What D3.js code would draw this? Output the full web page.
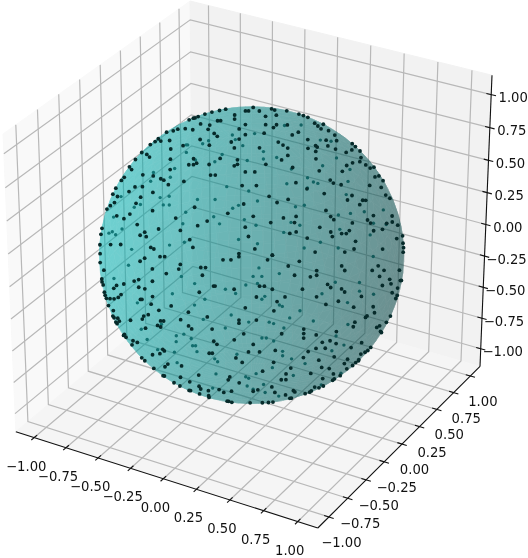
<!DOCTYPE html>
<html>
<head>
<meta charset="utf-8">
<script src="https://cdn.jsdelivr.net/npm/d3@7"></script>
<style>
body { margin: 0; background: #fff; }
svg { display: block; filter: blur(0.7px); }
text { font-family: "DejaVu Sans"; font-size: 13.2px; fill: #111; text-anchor: middle; dominant-baseline: central; }
</style>
</head>
<body>
<div id="chart"></div>
<script>
var axisTicks = [-1, -0.75, -0.5, -0.25, 0, 0.25, 0.5, 0.75, 1];

// dots on the unit sphere as [across, up] in percent of the radius, as seen by the camera
var frontNW = [[-39,94],[-35,93],[-31,96],[-26,96],[-21,97],[-17,98],[-41,91],[-37,92],[-33,87],[-27,86],[-22,89],[-20,89],[-4,96],[-2,96],[-11,90],[-11,93],[-48,84],[-56,83],[-51,83],[-61,78],[-63,76],[-67,75],[-72,69],[-77,65],[-81,60],[-78,57],[-83,52],[-85,50],[-89,45],[-91,41],[-95,31],[-98,18],[-99,14],[-100,7],[-99,1],
[-43,84],[-38,83],[-28,83],[-24,80],[-22,78],[-4,86],[-8,83],[-4,79],[-8,76],[-13,74],[-11,70],[-27,72],[-33,76],[-44,72],[-52,70],[-53,76],[-59,76],[-66,65],[-68,67],[-52,63],[-37,63],[-35,60],[-37,59],[-27,59],[-40,59],[-52,56],[-20,63],[-9,62],[-11,58],[-9,59],[-23,52],[-26,52],[-4,54],[-6,45],[-43,48],[-58,50],[-56,49],[-53,46],[-63,52],[-70,53],[-63,41],[-70,45],[-75,45],[-79,42],[-87,39],[-71,38],[-74,34],[-89,35],[-92,33],[-87,26],[-82,24],[-78,27],[-63,29],[-48,24],[-36,31],[-15,27],[-5,33],[-28,22],[-34,19],[-4,18],[-45,16],[-59,17],[-68,15],[-67,12],[-71,13],[-73,20],[-84,7],[-91,7],[-39,10],[-37,5],[-64,5],[-62,4],[-8,1],[-2,12]];
var backNW = [[-6,76],[-44,76],[-66,57],[-52,60],[-55,54],[-68,51],[-87,40],[-79,33],[-75,35],[-60,35],[-56,35],[-56,41],[-62,40],[-37,39],[-25,39],[-13,33],[-9,35],[-38,66],[-20,70],[-13,83],[-11,80],[-25,65],[-17,48],[-26,27],[-45,30],[-47,22],[-92,26],[-87,18],[-93,16],[-91,14],[-95,15],[-22,22],[-9,11],[-56,7],[-81,4],[-46,9],[-3,66],[-2,45],[-44,71],[-33,77],[-29,79],[-43,76],[-5,25]];
var frontNE = [[1,99],[5,96],[13,98],[15,97],[23,97],[31,95],[34,94],[37,93],[16,93],[9,92],[9,86],[16,86],[14,84],[23,86],[26,79],[30,81],[8,80],[36,76],[41,88],[43,86],[45,84],[47,88],[50,83],[54,80],[55,76],[48,76],[66,75],[68,73],[17,74],[20,72],[23,70],[36,70],[41,72],[42,71],[41,68],[49,72],[54,70],[61,68],[65,70],[5,70],[19,62],[23,65],[41,63],[71,65],[70,62],[74,60],[77,58],[65,61],[61,59],[58,55],[9,59],[26,57],[43,55],[2,54],[50,49],[52,47],[28,47],[3,45],[57,46],[76,46],[83,53],[80,52],[84,45],[87,40],[90,38],[35,43],[46,40],[64,39],[61,36],[11,38],[23,36],[16,34],[69,33],[71,36],[73,36],[47,29],[50,25],[52,23],[64,21],[74,23],[76,21],[78,26],[91,26],[1,25],[12,21],[20,24],[28,25],[27,21],[24,14],[28,15],[43,18],[50,15],[51,12],[57,14],[35,11],[62,16],[60,14],[66,9],[78,16],[84,17],[87,21],[91,22],[95,20],[99,13],[99,8],[100,5],[99,2],[94,11],[65,4],[40,2],[13,0],[84,4],[59,2],[2,4],[71,70],[80,59],[86,50]];
var backNE = [[2,84],[22,89],[33,89],[53,78],[46,79],[8,72],[8,67],[17,68],[27,60],[38,54],[45,50],[42,51],[24,50],[38,47],[65,51],[66,59],[57,67],[48,62],[36,35],[30,34],[4,38],[27,23],[59,28],[67,29],[82,22],[76,30],[88,31],[90,21],[80,14],[47,9],[36,5],[59,5],[4,8],[3,21],[22,16],[33,21],[60,18],[64,42]];
var frontSW = [[-99,-5],[-96,-10],[-98,-16],[-97,-20],[-96,-27],[-95,-29],[-92,-29],[-89,-29],[-86,-28],[-84,-26],[-89,-22],[-87,-20],[-82,-19],[-75,-17],[-72,-16],[-63,-17],[-72,-21],[-68,-22],[-63,-27],[-71,-29],[-70,-29],[-64,-32],[-59,-36],[-66,-39],[-69,-40],[-70,-42],[-78,-43],[-90,-37],[-90,-42],[-87,-42],[-86,-44],[-89,-45],[-84,-54],[-82,-55],[-77,-57],[-74,-58],[-68,-48],[-58,-43],[-56,-43],[-58,-47],[-60,-46],[-45,-42],[-40,-37],[-28,-40],[-40,-46],[-38,-48],[-25,-48],[-8,-42],[-8,-44],[-5,-51],[-11,-55],[-24,-56],[-22,-58],[-2,-63],[-6,-70],[-10,-67],[-27,-64],[-25,-64],[-57,-62],[-56,-63],[-59,-65],[-64,-66],[-72,-69],[-54,-72],[-56,-74],[-45,-73],[-57,-81],[-51,-86],[-46,-81],[-40,-84],[-34,-87],[-33,-89],[-28,-90],[-34,-93],[-41,-91],[-34,-79],[-14,-80],[-15,-82],[-21,-89],[-18,-91],[-13,-90],[-8,-84],[-15,-98],[-13,-99],[-1,-99],[-28,-94],[-29,-8],[-31,-13],[-32,-8],[-45,-6],[-46,-9],[-54,-12],[-63,-9],[-71,-4],[-68,-2],[-58,-1],[-55,-1],[-18,-3],[-13,-3],[-8,-1],[-24,-20],[-23,-20],[-11,-22],[-33,-24],[-4,-34],[-51,-33],
[-98,-18],[-97,-25],[-94,-34],[-91,-41],[-88,-46],[-83,-53],[-78,-60],[-58,-81],[-40,-91],[-28,-96],[-16,-98],[-70,-71],[-64,-76],[-47,-88]];
var backSW = [[-83,-7],[-92,-16],[-77,-33],[-39,-20],[-54,-27],[-48,-15],[-32,-31],[-18,-24],[-11,-27],[-4,-21],[-14,-42],[-2,-47],[-18,-51],[-41,-58],[-51,-56],[-51,-60],[-46,-55],[-40,-63],[-38,-63],[-37,-67],[-52,-67],[-25,-72],[-23,-74],[-10,-69],[-4,-84],[-2,-85],[-33,-45],[-61,-48],[-39,-35],[-74,-51],[-70,-58],[-63,-65],[-50,-74],[-24,-82],[-3,-90],[-26,-91]];
var frontSE = [[10,-3],[13,0],[30,-4],[23,-7],[27,-13],[41,-10],[41,-13],[37,-14],[57,-7],[59,-10],[77,-10],[81,-7],[85,-10],[82,-14],[89,-16],[96,-10],[97,-17],[98,-17],[90,-19],[84,-20],[95,-22],[91,-25],[8,-20],[5,-20],[13,-22],[32,-22],[48,-19],[50,-21],[57,-22],[59,-24],[41,-27],[3,-27],[21,-27],[16,-30],[55,-30],[47,-32],[70,-27],[65,-34],[78,-34],[94,-29],[14,-36],[3,-42],[73,-41],[74,-40],[79,-38],[66,-44],[88,-45],[83,-47],[81,-48],[84,-51],[33,-48],[33,-51],[19,-51],[41,-52],[54,-50],[50,-56],[54,-58],[45,-57],[47,-61],[41,-61],[36,-63],[1,-58],[15,-62],[5,-63],[64,-61],[71,-58],[78,-62],[74,-65],[71,-66],[70,-70],[68,-72],[62,-69],[53,-67],[43,-69],[33,-67],[14,-70],[7,-76],[25,-74],[45,-74],[50,-75],[53,-79],[38,-78],[60,-72],[22,-78],[19,-82],[22,-82],[41,-88],[46,-82],[53,-84],[27,-90],[28,-91],[25,-96],[15,-91],[13,-87],[22,-93],[1,-90],[4,-89],[7,-99],[11,-99],[14,-99],[44,-89],[35,-93],[33,-54],[47,-88],[65,-47],
[26,-96],[39,-91],[54,-83],[62,-76],[70,-71],[95,-27],[38,-92],[58,-81],[66,-74],[76,-64],[85,-52],[91,-41]];
var backSE = [[5,-9],[7,-15],[19,-13],[1,-15],[4,-20],[9,-29],[7,-31],[21,-36],[19,-35],[26,-44],[12,-47],[15,-48],[22,-51],[33,-39],[42,-46],[48,-27],[57,-19],[65,-33],[82,-27],[73,-25],[73,-19],[82,-1],[57,-56],[62,-62],[7,-58],[10,-58],[15,-60],[21,-67],[21,-70],[36,-75],[27,-72],[14,-78],[3,-82],[1,-92],[9,-94],[8,-89],[59,-80],[18,-96],[46,-88],[65,-48],[54,-66],[28,-83]];

var frontDots = frontNW.concat(frontNE, frontSW, frontSE);
var backDots = backNW.concat(backNE, backSW, backSE);

var dataLim = 1.1;
var boxLim = dataLim + 2 * dataLim / 48;
var camDist = 10;

// camera at elev 30, azim -60
var elev = 30 * Math.PI / 180, azim = -60 * Math.PI / 180;
var camN = [Math.cos(elev) * Math.cos(azim), Math.cos(elev) * Math.sin(azim), Math.sin(elev)];
var camU = [-camN[1], camN[0], 0].map(function(d) { return d / Math.hypot(camN[0], camN[1]); });
var camV = [camN[1] * camU[2] - camN[2] * camU[1], camN[2] * camU[0] - camN[0] * camU[2], camN[0] * camU[1] - camN[1] * camU[0]];
var lightDir = [-0.667, -0.667, 0.333];

function dot3(a, b) { return a[0] * b[0] + a[1] * b[1] + a[2] * b[2]; }

function project(p) {
    var q = p.map(function(d) { return d / (2 * dataLim); });
    var depth = camDist - dot3(camN, q);
    return [dot3(camU, q) / depth, dot3(camV, q) / depth];
}

var corners = [];
[-boxLim, boxLim].forEach(function(a) {
    [-boxLim, boxLim].forEach(function(b) {
        [-boxLim, boxLim].forEach(function(c) { corners.push(project([a, b, c])); });
    });
});

var scaleX = d3.scaleLinear().domain(d3.extent(corners, function(d) { return d[0]; })).range([3, 492]);
var scaleY = d3.scaleLinear().domain(d3.extent(corners, function(d) { return d[1]; })).range([528, 1]);

function toPixel(p) {
    var t = project(p);
    return [scaleX(t[0]), scaleY(t[1])];
}

var line3 = d3.line().x(function(d) { return toPixel(d)[0]; }).y(function(d) { return toPixel(d)[1]; });

var svg = d3.select("#chart").append("svg").attr("width", 528).attr("height", 558);

var lo = -boxLim, hi = boxLim;

// panes
var panes = [
    {fill: "#f9f9f9", pts: [[lo, lo, lo], [lo, hi, lo], [lo, hi, hi], [lo, lo, hi]]},
    {fill: "#f2f2f2", pts: [[lo, hi, lo], [hi, hi, lo], [hi, hi, hi], [lo, hi, hi]]},
    {fill: "#f5f5f5", pts: [[lo, lo, lo], [hi, lo, lo], [hi, hi, lo], [lo, hi, lo]]}
];
svg.append("g").selectAll("path").data(panes).enter().append("path")
    .attr("d", function(d) { return line3(d.pts) + "Z"; })
    .attr("fill", function(d) { return d.fill; })
    .attr("stroke", function(d) { return d.fill; });

// grid
var gridLines = [];
axisTicks.forEach(function(t) {
    gridLines.push([[t, lo, lo], [t, hi, lo], [t, hi, hi]]);
    gridLines.push([[hi, t, lo], [lo, t, lo], [lo, t, hi]]);
    gridLines.push([[lo, lo, t], [lo, hi, t], [hi, hi, t]]);
});
svg.append("g").selectAll("path").data(gridLines).enter().append("path")
    .attr("d", line3).attr("fill", "none").attr("stroke", "#b8b8b8").attr("stroke-width", 1.2);

// axis lines and ticks
var axisLines = [
    [[lo, lo, lo], [hi, lo, lo]],
    [[hi, lo, lo], [hi, hi, lo]],
    [[hi, hi, lo], [hi, hi, hi]]
];
var tickLen = 0.035;
axisTicks.forEach(function(t) {
    axisLines.push([[t, lo - tickLen, lo], [t, lo + tickLen, lo]]);
    axisLines.push([[hi - tickLen, t, lo], [hi + tickLen, t, lo]]);
    axisLines.push([[hi - tickLen, hi, t], [hi + tickLen, hi, t]]);
});
svg.append("g").selectAll("path").data(axisLines).enter().append("path")
    .attr("d", line3).attr("fill", "none").attr("stroke", "#111").attr("stroke-width", 1.1);

// sphere patches, split in far and near half so the dots can sit between them
var lonStep = 5, latStep = 5;
var patches = [];
d3.range(0, 360, lonStep).forEach(function(lon) {
    d3.range(-90, 90, latStep).forEach(function(lat) {
        var pts = [[lon, lat], [lon + lonStep, lat], [lon + lonStep, lat + latStep], [lon, lat + latStep]].map(function(d) {
            var a = d[0] * Math.PI / 180, b = d[1] * Math.PI / 180;
            return [Math.cos(b) * Math.cos(a), Math.cos(b) * Math.sin(a), Math.sin(b)];
        });
        var a = (lon + lonStep / 2) * Math.PI / 180, b = (lat + latStep / 2) * Math.PI / 180;
        var normal = [Math.cos(b) * Math.cos(a), Math.cos(b) * Math.sin(a), Math.sin(b)];
        patches.push({pts: pts, normal: normal});
    });
});

var shadeScale = d3.scaleLinear().domain([-1, 1]).range([0.3, 0.95]);

function patchColor(d) {
    var s = shadeScale(dot3(d.normal, lightDir));
    return d3.rgb(0, 191 * s, 191 * s).formatRgb();
}

function drawHalf(sign) {
    var half = patches.filter(function(d) { return sign * dot3(d.normal, camN) >= 0; });
    svg.append("g").attr("opacity", 0.33).selectAll("path").data(half).enter().append("path")
        .attr("d", function(d) { return line3(d.pts) + "Z"; })
        .attr("fill", patchColor).attr("stroke", patchColor).attr("stroke-width", 0.6);
}

function spherePoint(d, sign) {
    var h = d[0] / 100, v = d[1] / 100;
    var r = Math.hypot(h, v);
    if (r > 1) { h /= r; v /= r; r = 1; }
    var w = sign * Math.sqrt(1 - r * r);
    return [0, 1, 2].map(function(i) { return camU[i] * h + camV[i] * v + camN[i] * w; });
}

function drawDots(list, sign, fill, radius) {
    svg.append("g").selectAll("circle").data(list).enter().append("circle")
        .attr("cx", function(d) { return toPixel(spherePoint(d, sign))[0]; })
        .attr("cy", function(d) { return toPixel(spherePoint(d, sign))[1]; })
        .attr("r", radius).attr("fill", fill);
}

drawHalf(-1);
drawDots(backDots, -1, "#1c5a5a", 1.7);
drawHalf(1);
drawDots(frontDots, 1, "#062a2a", 1.9);

// tick labels
var fmt = d3.format(".2f");
var labels = [];
axisTicks.forEach(function(t) {
    var px = toPixel([t, lo, lo]);
    labels.push({text: fmt(t), x: px[0] - 8, y: px[1] + 28.5});
    px = toPixel([hi, t, lo]);
    labels.push({text: fmt(t), x: px[0] + 12.5, y: px[1] + 25.5});
    px = toPixel([hi, hi, t]);
    labels.push({text: fmt(t), x: px[0] + 22, y: px[1] + 3});
});
svg.append("g").selectAll("text").data(labels).enter().append("text")
    .attr("x", function(d) { return d.x; })
    .attr("y", function(d) { return d.y; })
    .text(function(d) { return d.text; });
</script>
</body>
</html>
